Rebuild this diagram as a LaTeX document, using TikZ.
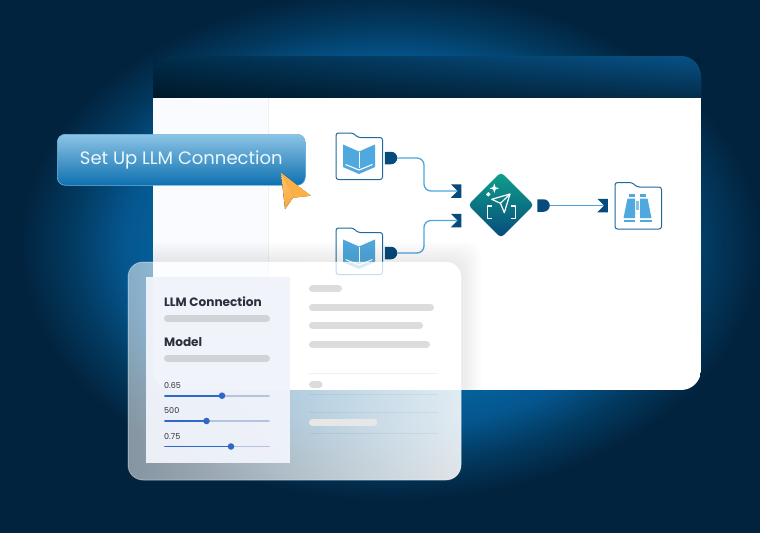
\documentclass[tikz,border=0pt]{standalone}
\usepackage{fontspec}
\setmainfont{Poppins}
\usetikzlibrary{positioning,shapes.geometric,shapes.symbols,shapes.misc,fadings,calc}

\definecolor{bgnavy}{HTML}{02233E}
\definecolor{glowa}{HTML}{0A72B5}
\definecolor{glowb}{HTML}{05659F}
\definecolor{glowc}{HTML}{05568F}
\definecolor{glowd}{HTML}{023A60}
\definecolor{portblue}{HTML}{074A7C}
\definecolor{wireblue}{HTML}{4EA6DC}
\definecolor{iconblue}{HTML}{4FA8DE}
\definecolor{folderline}{HTML}{1F6A9D}
\definecolor{sidewhite}{HTML}{FAFBFE}
\definecolor{panelside}{HTML}{F0F3FA}
\definecolor{barleft}{HTML}{D0D3D8}
\definecolor{barright}{HTML}{DCDCDC}
\definecolor{sliderfill}{HTML}{2F68C6}
\definecolor{slidertrack}{HTML}{B5C3DE}
\definecolor{inktext}{HTML}{2A2F3C}
\definecolor{buttona}{HTML}{8CC4E6}
\definecolor{buttonb}{HTML}{1F8BD0}
\definecolor{buttonc}{HTML}{0E70B0}
\definecolor{cursora}{HTML}{FEC46B}
\definecolor{cursorb}{HTML}{F8A93F}
\definecolor{cursorc}{HTML}{FCAF45}
\definecolor{diamonda}{HTML}{0FA08A}
\definecolor{barstart}{HTML}{012E4C}
\definecolor{barmid}{HTML}{01375A}
\definecolor{barend}{HTML}{085287}

\pgfdeclareradialshading{glowshade}{\pgfpoint{0bp}{0bp}}{%
  color(0bp)=(glowa); color(14bp)=(glowb); color(18bp)=(glowc); color(21.5bp)=(glowd); color(25bp)=(bgnavy); color(50bp)=(bgnavy)}

\tikzset{
  outport/.style={rounded rectangle, rounded rectangle left arc=none, fill=portblue,
    minimum width=10.5, minimum height=12.5, inner sep=0},
  inport/.style={signal, signal from=west, signal to=nowhere, fill=portblue,
    minimum width=10.5, minimum height=13.5, inner sep=0},
  wire/.style={draw=wireblue, line width=1.3pt, rounded corners=7},
  greybar/.style={line width=7pt, line cap=round},
  slidertrackline/.style={draw=slidertrack, line width=1.7pt, line cap=round},
  sliderline/.style={draw=sliderfill, line width=1.7pt, line cap=round},
  knob/.style={circle, fill=sliderfill, minimum size=6.6, inner sep=0},
  smalllabel/.style={font=\fontsize{8}{9}\selectfont, text=inktext, anchor=base west, inner sep=0},
  headlabel/.style={font=\fontsize{12.1}{14}\selectfont\bfseries, text=inktext, anchor=base west, inner sep=0},
  pics/folder/.style={code={
    \draw[draw=folderline, fill=white, line width=1pt, rounded corners=2.5]
      (0,0) -- (17,0) -- (22,4.5) -- (46.5,4.5) -- (46.5,46.5) -- (0,46.5) -- cycle;
  }},
  pics/book/.style={code={
    \fill[iconblue] (7,11.5) -- (23,18.5) -- (39,11.5) -- (39,34) -- (23,41) -- (7,34) -- cycle;
    \draw[white, line width=1pt] (23,18.5) -- (23,34.5);
    \draw[white, line width=1.1pt] (9.5,31.5) -- (23,37) -- (36.5,31.5);
  }},
}

\begin{document}
\begin{tikzpicture}[x=1pt,y=-1pt]
    \useasboundingbox (0,0) rectangle (760,533);
    % Background with glow
    \fill[bgnavy] (0,0) rectangle (760,533);
    \begin{scope}
        \clip (0,0) rectangle (760,533);
        \shade[shading=glowshade] (390,245) ellipse (370 and 255);
    \end{scope}

    % Window title bar
    \begin{scope}
        \clip (153,56) rectangle (701,98);
        \shade[left color=barstart, middle color=barmid, right color=barend, rounded corners=20] (153,56) rectangle (701,140);
        \fill[black, opacity=0.45, path fading=north, rounded corners=0] (153,56) rectangle (701,98);
    \end{scope}

    % Window body and sidebar
    \begin{scope}
        \clip[rounded corners=20] (153,60) rectangle (701,390);
        \fill[white] (153,98) rectangle (701,390);
        \fill[sidewhite] (153,98) rectangle (268,390);
        \draw[draw=black!6, line width=0.6pt] (268,98) -- (268,390);
    \end{scope}

    % Workflow tools
    \pic at (336,133) {folder};
    \pic at (336,133) {book};
    \pic at (336,228) {folder};
    \pic at (336,228) {book};
    \pic at (615,182.5) {folder};

    % Binoculars
    \fill[iconblue] (629,194) rectangle (635,197);
    \fill[iconblue] (640,194) rectangle (646,197);
    \fill[iconblue] (627.5,198.5) -- (635,198.5) -- (635,218) -- (623.5,218) -- cycle;
    \fill[iconblue] (647.5,198.5) -- (640,198.5) -- (640,218) -- (651.5,218) -- cycle;
    \fill[iconblue] (623.5,219.5) rectangle (635,222);
    \fill[iconblue] (640,219.5) rectangle (651.5,222);
    \fill[iconblue!70] (636,201) rectangle (639,210);

    % Centre diamond
    \node[diamond, minimum width=66, minimum height=66, inner sep=0, rounded corners=4,
      top color=diamonda, bottom color=portblue] (llm) at (501,205) {};
    \begin{scope}[draw=white, line width=1.2pt, line join=round]
        \draw (510,194) -- (491.7,199.3) -- (500.5,203.3) -- (504.3,212.7) -- cycle;
        \draw (510,194) -- (500.5,203.3);
        \draw (491.7,206) -- (487.2,206) -- (487.2,218.5) -- (491.7,218.5);
        \draw (511,206) -- (515.5,206) -- (515.5,218.5) -- (511,218.5);
    \end{scope}
    \fill[white] (494.3,183.5) -- (495.5,187.1) -- (499,188.3) -- (495.5,189.5) -- (494.3,193) -- (493.1,189.5) -- (489.6,188.3) -- (493.1,187.1) -- cycle;
    \fill[white] (488.3,192) -- (490.6,194.3) -- (488.3,196.6) -- (486,194.3) -- cycle;

    % Ports
    \node[outport] (outa) at (391,158) {};
    \node[outport] (outb) at (391,253) {};
    \node[inport] (ina) at (459.5,191) {};
    \node[inport] (inb) at (459.5,220.5) {};
    \node[outport] (outc) at (543.5,205.5) {};
    \node[inport] (inc) at (606,205.5) {};
    \coordinate (benda) at (424,158);

    % Wires
    \draw[wire] (outa.east) -- (benda |- outa) -- (benda |- ina) -- (ina.west);
    \draw[wire] (outb.east) -- (benda |- outb) -- (benda |- inb) -- (inb.west);
    \draw[wire] (outc.east) -- (inc.west);

    % Soft shadow of the panel on the window
    \begin{scope}
        \clip[rounded corners=20] (153,98) rectangle (701,390);
        \foreach \grow in {2,5,8,11,14,17,20}
            \fill[black, opacity=0.012, even odd rule, rounded corners=15] (128-\grow,262-\grow) rectangle (461+\grow,480+\grow) (128,262) rectangle (461,480);
    \end{scope}

    % Frosted panel
    \fill[white, opacity=0.52, rounded corners=15] (128,262) rectangle (461,480);
    \fill[white, opacity=0.75, path fading=west, rounded corners=15] (128,262) rectangle (461,480);
    \draw[draw=white, opacity=0.35, line width=1pt, rounded corners=15] (128,262) rectangle (461,480);

    % Panel sidebar
    \fill[panelside, opacity=0.96] (145.5,277) rectangle (290,463);
    \node[headlabel] (lblconn) at (164,306) {LLM Connection};
    \node[headlabel] (lblmodel) at (164,346) {Model};
    \draw[barleft, greybar] (167.5,318.5) -- (266.5,318.5);
    \draw[barleft, greybar] (167.5,358) -- (266.5,358);

    % Sliders
    \foreach \val/\ypos/\xknob/\base in {0.65/395.7/222/388, 500/421/206.5/413.5, 0.75/446.5/231/439}{
        \node[smalllabel] at (164,\base) {\val};
        \draw[slidertrackline] (165,\ypos) -- (269,\ypos);
        \draw[sliderline] (165,\ypos) -- (\xknob,\ypos);
        \node[knob] at (\xknob,\ypos) {};
    }

    % Panel right side
    \draw[barright, greybar] (312.5,288.5) -- (338.5,288.5);
    \draw[barright, greybar] (312.5,307.5) -- (430.5,307.5);
    \draw[barright, greybar] (312.5,325.5) -- (419.5,325.5);
    \draw[barright, greybar] (312.5,344.5) -- (426.5,344.5);
    \draw[barright, greybar] (312.5,384.5) -- (319,384.5);
    \draw[barright!70!white, greybar] (312.5,422.5) -- (374,422.5);
    \foreach \yline/\lineop in {373/0.06, 394/0.05, 412/0.05, 433/0.05}
        \draw[black, opacity=\lineop, line width=0.7pt] (309,\yline) -- (438,\yline);

    % Button and cursor
    \node[rectangle, rounded corners=8, minimum width=248, minimum height=51, inner sep=0,
      draw=wireblue!80!white, line width=0.6pt, shading angle=120,
      top color=buttona, middle color=buttonb, bottom color=buttonc,
      text=white!92!cyan, font=\fontsize{18}{20}\selectfont, anchor=north west] (setup) at (57,134) {Set Up LLM Connection};
    \fill[top color=cursora, bottom color=cursorb] (281,173) -- (310.7,195.7) -- (293,197.7) -- (285,209) -- cycle;
    \fill[cursorc] (281,173) -- (310.7,195.7) -- (293,197.7) -- cycle;
\end{tikzpicture}
\end{document}
